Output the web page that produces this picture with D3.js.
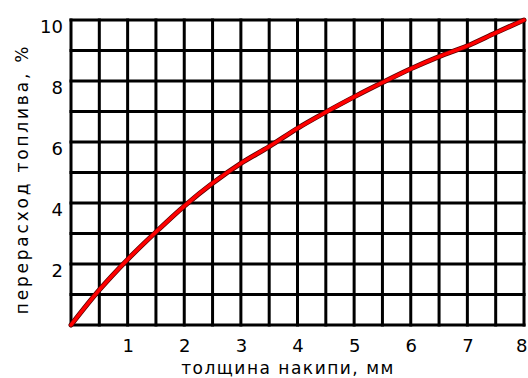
<!DOCTYPE html>
<html>
<head>
<meta charset="utf-8">
<script src="https://cdn.jsdelivr.net/npm/d3@7"></script>
<style>
  html, body { margin: 0; padding: 0; background: #fff; }
  svg { display: block; }
  text { font-family: "DejaVu Sans", Verdana, sans-serif; fill: #000; }
</style>
</head>
<body>
<svg id="chart" width="528" height="378"></svg>
<script>
// Data
const thickness = [0, 0.5, 1, 1.5, 2, 2.5, 3, 3.5, 4, 4.5, 5, 5.5, 6, 6.5, 7, 7.5, 8];
const overuse   = [0, 1.15, 2.15, 3.05, 3.9, 4.65, 5.3, 5.85, 6.45, 6.98, 7.48, 7.95, 8.4, 8.8, 9.15, 9.58, 10];
const xTickLabels = [1, 2, 3, 4, 5, 6, 7, 8];
const yTickLabels = [2, 4, 6, 8, 10];
const xGridValues = d3.range(0, 8.01, 0.5);
const yGridValues = d3.range(0, 10.01, 1);
const xTitle = "толщина накипи, мм";
const yTitle = "перерасход топлива, %";

const svg = d3.select("#chart");
const W = 528, L = 71, R = 524, T = 20, B = 325;

const x = d3.scaleLinear().domain([0, 8]).range([L, R]);
const y = d3.scaleLinear().domain([0, 10]).range([B, T]);

// grid
const grid = svg.append("g").attr("stroke", "#000").attr("stroke-width", 3).attr("stroke-linecap", "square");
grid.selectAll("line.v").data(xGridValues).join("line")
  .attr("class", "v")
  .attr("x1", d => x(d)).attr("x2", d => x(d))
  .attr("y1", T).attr("y2", B);
grid.selectAll("line.h").data(yGridValues).join("line")
  .attr("class", "h")
  .attr("x1", L).attr("x2", R)
  .attr("y1", d => y(d)).attr("y2", d => y(d));

// curve
const pts = thickness.map((t, i) => [t, overuse[i]]);
const line = d3.line().x(d => x(d[0])).y(d => y(d[1])).curve(d3.curveMonotoneX);
svg.append("path").datum(pts).attr("d", line)
  .attr("fill", "none").attr("stroke", "#5a0000").attr("stroke-width", 5).attr("stroke-linecap", "round");
svg.append("path").datum(pts).attr("d", line)
  .attr("fill", "none").attr("stroke", "#ff0000").attr("stroke-width", 3.5).attr("stroke-linecap", "round");

// x tick labels
const xAxis = d3.axisBottom(x).tickValues(xTickLabels).tickSize(0).tickPadding(0).tickFormat(d3.format("d"));
const gx = svg.append("g").attr("transform", `translate(0,${B})`).call(xAxis);
gx.select(".domain").remove();
gx.selectAll("text").attr("font-size", 18).attr("font-family", "DejaVu Sans").attr("dy", null).attr("y", 27).attr("fill", "#000");
// keep labels inside the picture
gx.selectAll(".tick").each(function(d) {
  const t = d3.select(this).select("text");
  const w = this.querySelector("text").getComputedTextLength();
  const over = x(d) + w / 2 - (W - 1);
  if (over > 0) t.attr("dx", -over);
});

// y tick labels
const yAxis = d3.axisLeft(y).tickValues(yTickLabels).tickSize(0).tickPadding(0).tickFormat(d3.format("d"));
const gy = svg.append("g").attr("transform", `translate(${L - 8},0)`).call(yAxis);
gy.select(".domain").remove();
gy.selectAll("text").attr("font-size", 18).attr("font-family", "DejaVu Sans").attr("dy", "0.32em").attr("y", 7).attr("fill", "#000");

// titles
svg.append("text").attr("x", 288).attr("y", 374).attr("text-anchor", "middle")
  .attr("font-size", 17).attr("letter-spacing", 1.5).text(xTitle);
svg.append("text").attr("transform", "translate(28,179) rotate(-90)").attr("text-anchor", "middle")
  .attr("font-size", 17).attr("letter-spacing", 2.8).text(yTitle);
</script>
</body>
</html>
